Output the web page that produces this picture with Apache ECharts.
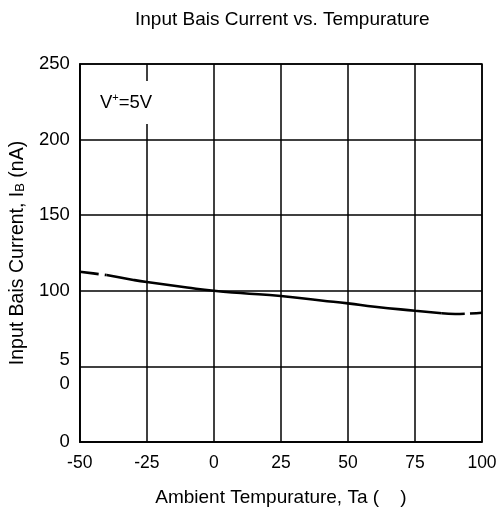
<!DOCTYPE html>
<html><head><meta charset="utf-8">
<script src="https://cdn.jsdelivr.net/npm/echarts@6/dist/echarts.min.js"></script>
<style>html,body{margin:0;padding:0;background:#fff}#c{width:502px;height:513px}</style>
</head><body><div id="c"></div>
<script>
const titleText = 'Input Bais Current vs. Tempurature';
const xTicks = [-50, -25, 0, 25, 50, 75, 100];
const yTicks = [0, 50, 100, 150, 200, 250];
const temps  = [-50, -40, -30, -25, -10, 0, 10, 25, 40, 50, 60, 75, 85, 90, 100];
const ibias  = [112.6, 110.4, 107.2, 105.8, 102.2, 100.0, 98.5, 96.6, 93.6, 91.7, 89.5, 86.8, 85.1, 84.7, 85.5];
const leftDashEnd = -40;   // dashed part at low temperatures
const rightDashStart = 85; // dashed part at high temperatures

const pts = temps.map((t, i) => [t, ibias[i]]);
const leftPts = pts.filter(p => p[0] <= leftDashEnd);
const midPts = pts.filter(p => p[0] >= leftDashEnd && p[0] <= rightDashStart);
const rightPts = pts.filter(p => p[0] >= rightDashStart);

const FONT = 'Liberation Sans, Arial, sans-serif';
const chart = echarts.init(document.getElementById('c'));
const lineBase = {type: 'line', smooth: true, symbol: 'none', silent: true, z: 5};
chart.setOption({
  animation: false,
  grid: {left: 79, right: 20, top: 64, bottom: 71, show: true, borderColor: '#000', borderWidth: 1.5},
  xAxis: {
    type: 'value', min: -50, max: 100, interval: 25,
    axisLine: {show: true, onZero: false, lineStyle: {color: '#000', width: 1.5}},
    axisTick: {show: false},
    splitLine: {show: true, lineStyle: {color: '#000', width: 1.5}},
    axisLabel: {color: '#000', fontFamily: FONT, fontSize: 17.5, margin: 12},
    name: 'Ambient Tempurature, Ta (    )', nameLocation: 'middle', nameGap: 46,
    nameTextStyle: {color: '#000', fontFamily: FONT, fontSize: 19}
  },
  yAxis: {
    type: 'value', min: 0, max: 250, interval: 50,
    axisLine: {show: true, onZero: false, lineStyle: {color: '#000', width: 1.5}},
    axisTick: {show: false},
    splitLine: {show: true, lineStyle: {color: '#000', width: 1.5}},
    axisLabel: {color: '#000', fontFamily: FONT, fontSize: 18.5, margin: 10,
      formatter: v => (v === 50 ? '{e|}\n{d|5}\n{d|0}' : String(v)),
      rich: {e: {fontSize: 10, lineHeight: 12},
             d: {fontFamily: FONT, fontSize: 18.5, color: '#000', lineHeight: 24}}},
    name: '{n|Input Bais Current, I}{s|B}{n| (nA)}', nameLocation: 'middle', nameGap: 47,
    nameTextStyle: {color: '#000', fontFamily: FONT, fontSize: 19,
      rich: {n: {fontFamily: FONT, fontSize: 19.5, color: '#000'},
             s: {fontFamily: FONT, fontSize: 13, color: '#000', padding: [5, 0, 0, 0]}}}
  },
  graphic: [
    {type: 'text', left: 135, top: 10,
      style: {text: titleText, font: '19px ' + FONT, fill: '#000'}},
    {type: 'text', left: 97, top: 81, z: 10,
      style: {text: '{a|V}{b|+}{a|=5V}', backgroundColor: '#fff', padding: [11, 3, 11, 3],
        rich: {a: {fontFamily: FONT, fontSize: 18.5, color: '#000'},
               b: {fontFamily: FONT, fontSize: 11, color: '#000', padding: [0, 0, 10, 0]}}}}
  ],
  series: [
    Object.assign({}, lineBase, {data: leftPts, lineStyle: {color: '#000', width: 2.6, type: [19, 6]}}),
    Object.assign({}, lineBase, {data: midPts, lineStyle: {color: '#000', width: 2.6}}),
    Object.assign({}, lineBase, {data: rightPts, lineStyle: {color: '#000', width: 2.6, type: [23, 5]}})
  ]
});
</script></body></html>
